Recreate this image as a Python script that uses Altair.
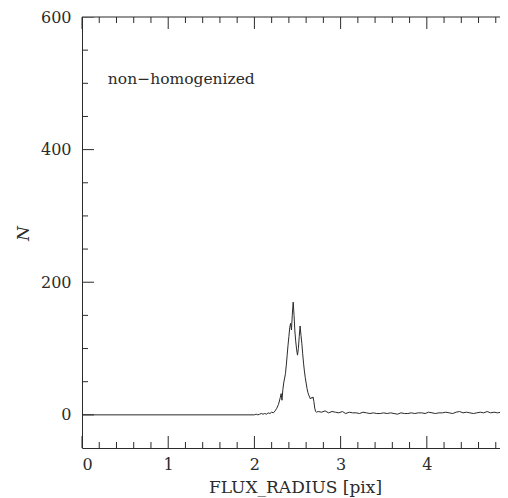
import altair as alt
import pandas as pd

# ---- data ----
flat_x = [0.0, 2.0]
flat_y = [0, 0]

peak_x = [2.02, 2.04, 2.06, 2.08, 2.10, 2.12, 2.14, 2.16, 2.18, 2.20, 2.22,
          2.24, 2.26, 2.28, 2.30, 2.31, 2.32, 2.33, 2.34, 2.36, 2.37, 2.38,
          2.39, 2.40, 2.41, 2.42, 2.43, 2.44, 2.45, 2.46, 2.47, 2.48, 2.49,
          2.50, 2.51, 2.52, 2.53, 2.54, 2.55, 2.56, 2.57, 2.58, 2.59, 2.60,
          2.61, 2.62, 2.63, 2.64, 2.65, 2.66, 2.67, 2.68, 2.69, 2.70, 2.71, 2.72]
peak_y = [1, 0, 1, 2, 1, 2, 1, 3, 2, 4, 3,
          6, 10, 16, 26, 32, 22, 38, 48, 62, 75, 90,
          105, 118, 132, 138, 128, 152, 170, 150, 125, 110, 98,
          90, 100, 118, 134, 120, 108, 92, 78, 66, 56, 48,
          40, 34, 30, 27, 24, 26, 25, 27, 20, 10, 5, 4]

tail_x = [2.74, 2.78, 2.82, 2.86, 2.90, 2.94, 2.98, 3.02, 3.06, 3.10, 3.14,
          3.18, 3.22, 3.26, 3.30, 3.34, 3.38, 3.42, 3.46, 3.50, 3.54, 3.58,
          3.62, 3.66, 3.70, 3.74, 3.78, 3.82, 3.86, 3.90, 3.94, 3.98, 4.02,
          4.06, 4.10, 4.14, 4.18, 4.22, 4.26, 4.30, 4.34, 4.38, 4.42, 4.46,
          4.50, 4.54, 4.58, 4.62, 4.66, 4.70, 4.74, 4.78, 4.82, 4.86, 4.90,
          4.94, 4.98]
tail_y = [5, 4, 6, 3, 5, 4, 3, 5, 2, 4, 3,
          3, 2, 4, 3, 2, 3, 2, 2, 3, 2, 3,
          2, 1, 3, 2, 2, 3, 2, 3, 3, 2, 4,
          3, 2, 3, 3, 4, 3, 2, 4, 5, 3, 4,
          3, 2, 3, 4, 3, 5, 3, 4, 3, 4, 5,
          3, 4]

x_labels = [0, 1, 2, 3, 4]
x_minor = [0.2, 0.4, 0.6, 0.8, 1.2, 1.4, 1.6, 1.8, 2.2, 2.4, 2.6, 2.8,
           3.2, 3.4, 3.6, 3.8, 4.2, 4.4, 4.6, 4.8]
y_labels = [0, 200, 400, 600]
y_minor = [50, 100, 150, 250, 300, 350, 450, 500, 550]

annotation = "non−homogenized"
x_title = "FLUX_RADIUS [pix]"
y_title = "N"

# ---- layout / style ----
W, H = 418, 431
MAJ, MIN = 12, 6
INK = "#2b2b2b"
FONT = "DejaVu Serif"

xscale = alt.Scale(domain=[0, 4.849], nice=False, zero=False)
yscale = alt.Scale(domain=[-50, 600], nice=False, zero=False)

xaxis = alt.Axis(values=x_labels, title=x_title, ticks=False,
                 labelPadding=8, labelBaseline="top",
                 titleX=213, titleY=39, titleAlign="center",
                 titleBaseline="middle", titleFontSize=17)
yaxis = alt.Axis(values=y_labels, title=y_title, ticks=False,
                 labelPadding=11, titleFontStyle="italic", titleFontSize=17,
                 titleX=-59, titleY=216, titleAlign="center",
                 titleBaseline="middle", titleAngle=-90)

df = pd.DataFrame({"x": flat_x + peak_x + tail_x,
                   "y": flat_y + peak_y + tail_y})

line = alt.Chart(df).mark_line(color=INK, strokeWidth=1, clip=True).encode(
    x=alt.X("x:Q", scale=xscale, axis=xaxis),
    y=alt.Y("y:Q", scale=yscale, axis=yaxis),
)


def xticks(vals, y0, y1):
    return alt.Chart(pd.DataFrame({"x": vals})).mark_rule(
        color=INK, strokeWidth=1).encode(
        x=alt.X("x:Q", scale=xscale, axis=xaxis),
        y=alt.value(y0), y2=alt.value(y1))


def yticks(vals, x0, x1):
    return alt.Chart(pd.DataFrame({"y": vals})).mark_rule(
        color=INK, strokeWidth=1, clip=True).encode(
        y=alt.Y("y:Q", scale=yscale, axis=yaxis),
        x=alt.value(x0), x2=alt.value(x1))


top_border = alt.Chart(pd.DataFrame({"v": [0]})).mark_rule(
    color=INK, strokeWidth=1).encode(
    x=alt.value(0), x2=alt.value(W), y=alt.value(0))

label = alt.Chart(pd.DataFrame({"x": [0.30], "y": [499], "t": [annotation]})
                  ).mark_text(align="left", baseline="alphabetic", font=FONT,
                              fontSize=15.5, color=INK).encode(
    x=alt.X("x:Q", scale=xscale, axis=xaxis),
    y=alt.Y("y:Q", scale=yscale, axis=yaxis),
    text="t:N")

chart = alt.layer(
    line,
    xticks(x_labels, H, H - MAJ), xticks(x_minor, H, H - MIN),
    xticks(x_labels, 0, MAJ), xticks(x_minor, 0, MIN),
    yticks(y_labels, 0, MAJ), yticks(y_minor, 0, MIN),
    top_border, label,
).properties(
    width=W, height=H,
    autosize=alt.AutoSizeParams(type="none"),
    padding={"left": 74, "top": 9, "right": 0, "bottom": 49},
).configure_view(strokeWidth=0).configure_axis(
    labelFont=FONT, labelFontSize=16, labelColor=INK, labelFontWeight="normal",
    titleFont=FONT, titleColor=INK, titleFontWeight="normal",
    domainColor=INK, domainWidth=1, grid=False,
)

chart.save("out.html", embed_options={"renderer": "svg", "actions": False})
